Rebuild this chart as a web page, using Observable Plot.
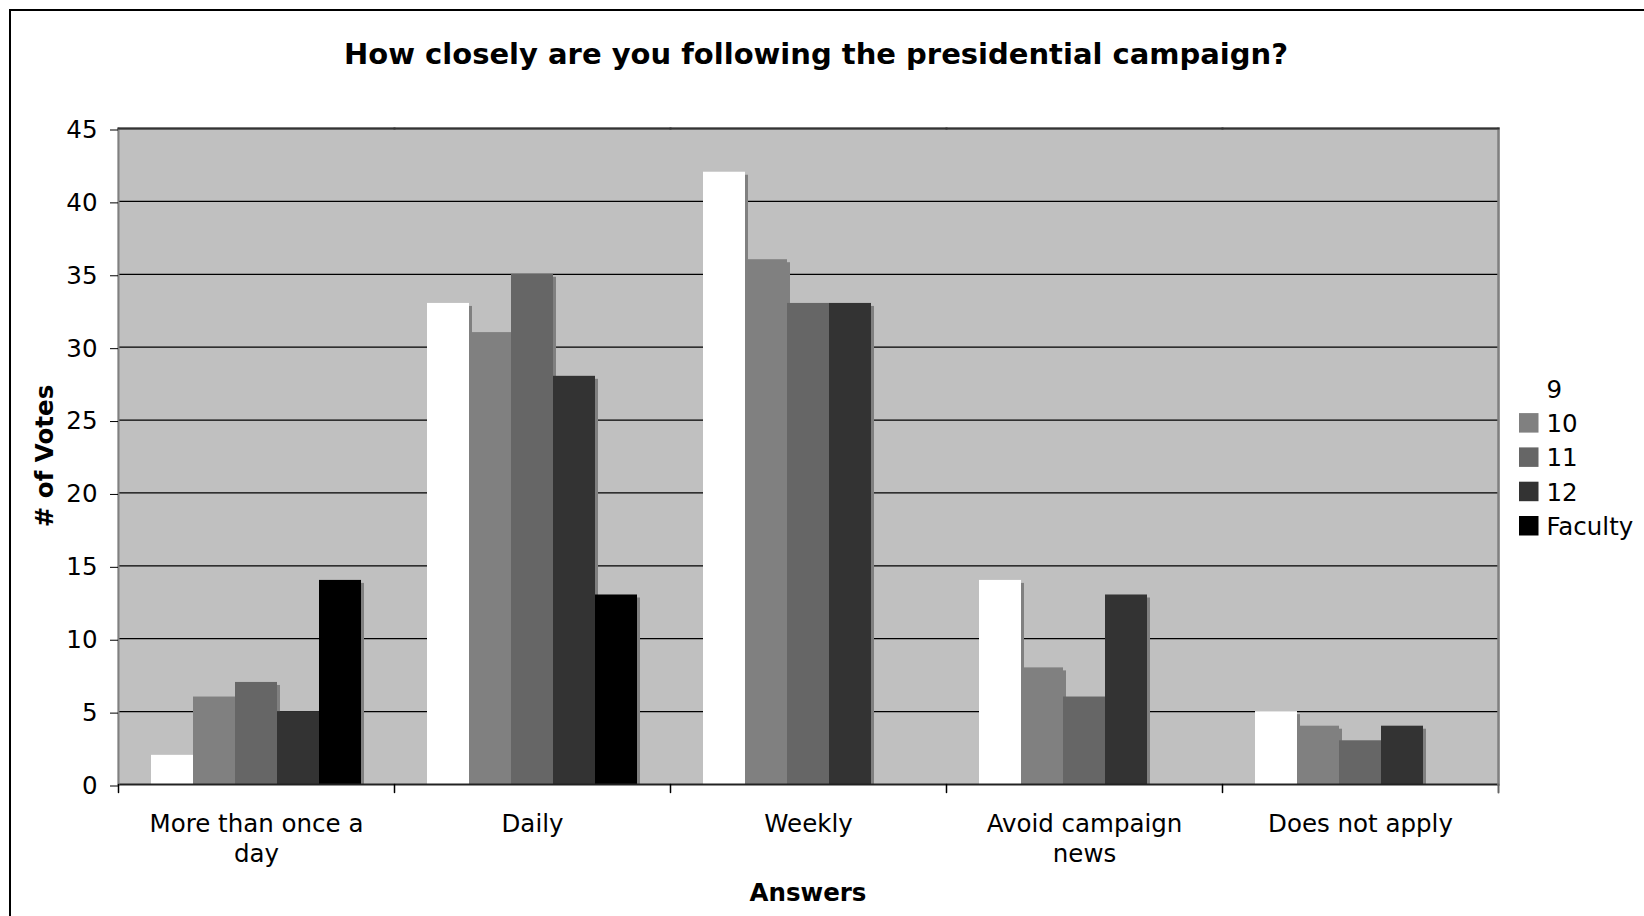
<!DOCTYPE html>
<html><head><meta charset="utf-8">
<script src="https://cdn.jsdelivr.net/npm/d3@7"></script>
<script src="https://cdn.jsdelivr.net/npm/@observablehq/plot@0.6"></script>
<style>
body{margin:0;background:#fff;}
#wrap{position:relative;width:1644px;height:916px;overflow:hidden;font-family:"DejaVu Sans",Verdana,sans-serif;background:#fff;}
#border{position:absolute;left:9px;top:9px;width:2000px;height:2000px;border-left:2px solid #000;border-top:2px solid #000;}
#chart{position:absolute;left:0;top:0;}
#overlay{position:absolute;left:0;top:0;}
</style></head><body>
<div id="wrap"><div id="border"></div><div id="chart"></div><svg id="overlay" width="1644" height="916"></svg></div>
<script>
const categories = ["More than once a day", "Daily", "Weekly", "Avoid campaign news", "Does not apply"];
const categoryLabels = ["More than once a\nday", "Daily", "Weekly", "Avoid campaign\nnews", "Does not apply"];
const series = ["9", "10", "11", "12", "Faculty"];
const seriesColors = ["#ffffff", "#808080", "#666666", "#333333", "#000000"];
const votes9 = [2, 33, 42, 14, 5];
const votes10 = [6, 31, 36, 8, 4];
const votes11 = [7, 35, 33, 6, 3];
const votes12 = [5, 28, 33, 13, 4];
const votesFaculty = [14, 13, null, null, null];
const yTicks = [0, 5, 10, 15, 20, 25, 30, 35, 40, 45];
const titleText = "How closely are you following the presidential campaign?";
const yTitle = "# of Votes";
const xTitle = "Answers";

const seriesValues = [votes9, votes10, votes11, votes12, votesFaculty];
const rows = [];
categories.forEach((c, i) => {
  series.forEach((s, j) => {
    const v = seriesValues[j][i];
    if (v != null) rows.push({category: c, series: s, value: v});
  });
});
const labelOf = new Map(categories.map((c, i) => [c, categoryLabels[i]]));

const tickShape = {draw(context, l) { context.moveTo(0, 0); context.lineTo(0, -l); }};

const chart = Plot.plot({
  width: 1644,
  height: 916,
  marginLeft: 117,
  marginRight: 145,
  marginTop: 128,
  marginBottom: 132,
  style: {fontFamily: "'DejaVu Sans', Verdana, sans-serif", fontSize: "24.5px", color: "#000", background: "transparent", overflow: "visible"},
  fx: {domain: categories, padding: 0},
  x: {domain: series, paddingInner: 0, paddingOuter: 0.745, axis: null},
  y: {domain: [0, 45]},
  color: {domain: series, range: seriesColors},
  marks: [
    Plot.frame({fill: "#c0c0c0", insetLeft: -1, insetRight: -1}),
    Plot.gridY({ticks: yTicks.filter(d => d > 0), stroke: "#000", strokeOpacity: 1, strokeWidth: 1.3}),
    Plot.barY(rows, {fx: "category", x: "series", y: "value", fill: "#808080", dx: 3, dy: 3, clip: true}),
    Plot.barY(rows, {fx: "category", x: "series", y: "value", fill: "series"}),
    Plot.ruleY([0], {stroke: "#222", strokeWidth: 2}),
    Plot.frame({anchor: "left", facetAnchor: "left", stroke: "#808080", strokeWidth: 2}),
    Plot.frame({anchor: "right", facetAnchor: "right", stroke: "#808080", strokeWidth: 2.5}),
    Plot.frame({anchor: "top", stroke: "#333", strokeWidth: 2}),
    Plot.vector([0], {frameAnchor: "bottom-left", length: 8, rotate: 180, anchor: "start", shape: tickShape, stroke: "#000", strokeWidth: 1.5}),
    Plot.vector([0], {frameAnchor: "bottom-right", facetAnchor: "right", length: 8, rotate: 180, anchor: "start", shape: tickShape, stroke: "#666", strokeWidth: 2}),
    Plot.axisY({ticks: yTicks, tickSize: 8, tickPadding: 13, label: null, stroke: "#000", dy: 1.5}),
    Plot.axisFx({anchor: "bottom", tickSize: 0, tickPadding: 26, lineHeight: 1.22, label: null, tickFormat: d => labelOf.get(d)})
  ]
});
document.getElementById("chart").appendChild(chart);

const ov = d3.select("#overlay").style("font-family", "'DejaVu Sans', Verdana, sans-serif");
ov.append("text").attr("x", 816).attr("y", 64.3).attr("text-anchor", "middle")
  .attr("font-weight", "bold").attr("font-size", 29).text(titleText);
ov.append("text").attr("transform", "translate(53,456) rotate(-90)").attr("text-anchor", "middle")
  .attr("font-weight", "bold").attr("font-size", 24.5).text(yTitle);
ov.append("text").attr("x", 808).attr("y", 901).attr("text-anchor", "middle")
  .attr("font-weight", "bold").attr("font-size", 24.5).text(xTitle);

const lg = ov.append("g");
series.forEach((s, i) => {
  const cy = 388.8 + i * 34.3;
  lg.append("rect").attr("x", 1519).attr("y", cy - 10).attr("width", 19.5).attr("height", 19.5).attr("fill", seriesColors[i]);
  lg.append("text").attr("x", 1546.5).attr("y", cy + 9).attr("font-size", 24.5).text(s);
});
</script>
</body></html>
